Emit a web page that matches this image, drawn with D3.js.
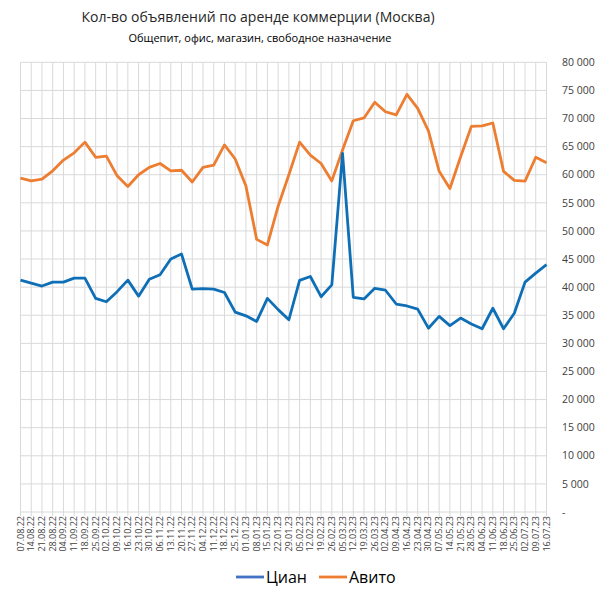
<!DOCTYPE html>
<html>
<head>
<meta charset="utf-8">
<script src="https://cdn.jsdelivr.net/npm/d3@7"></script>
<style>
  body { margin: 0; background: #fff; }
  text { font-family: "Open Sans", sans-serif; fill: #404040; }
</style>
</head>
<body>
<div id="chart"></div>
<script>
// weekly dates (category labels)
var dates = ['07.08.22', '14.08.22', '21.08.22', '28.08.22', '04.09.22', '11.09.22', '18.09.22', '25.09.22',
  '02.10.22', '09.10.22', '16.10.22', '23.10.22', '30.10.22', '06.11.22', '13.11.22', '20.11.22', '27.11.22',
  '04.12.22', '11.12.22', '18.12.22', '25.12.22', '01.01.23', '08.01.23', '15.01.23', '22.01.23', '29.01.23',
  '05.02.23', '12.02.23', '19.02.23', '26.02.23', '05.03.23', '12.03.23', '19.03.23', '26.03.23', '02.04.23',
  '09.04.23', '16.04.23', '23.04.23', '30.04.23', '07.05.23', '14.05.23', '21.05.23', '28.05.23', '04.06.23',
  '11.06.23', '18.06.23', '25.06.23', '02.07.23', '09.07.23', '16.07.23'];

// Циан
var cian = [41250, 40700, 40200, 40900, 40900, 41600, 41600, 38000, 37400, 39200,
  41250, 38400, 41400, 42200, 45000, 45900, 39650, 39750, 39650, 39050,
  35550, 34900, 33900, 38000, 36000, 34200, 41200, 41900, 38300, 40400,
  63800, 38200, 37900, 39800, 39450, 37000, 36650, 36100, 32700, 34800,
  33150, 34500, 33450, 32600, 36250, 32600, 35350, 40900, 42500, 44000];

// Авито
var avito = [59400, 58900, 59200, 60700, 62600, 63900, 65800, 63100, 63300, 59800,
  57900, 60000, 61300, 62000, 60700, 60800, 58700, 61300, 61700, 65300,
  62800, 58000, 48500, 47500, 54400, 60000, 65800, 63500, 62000, 58900,
  64400, 69600, 70100, 72900, 71200, 70650, 74300, 71800, 67800, 60600,
  57550, 63200, 68600, 68700, 69200, 60600, 59000, 58850, 63100, 62150];

var yTicks = d3.range(0, 80001, 5000);

var W = 599, H = 593;
var plotLeft = 20.5, plotRight = 546.5, plotTop = 62.3, plotBottom = 512;

var svg = d3.select('#chart').append('svg')
  .attr('width', W)
  .attr('height', H);

var x = d3.scalePoint().domain(dates).range([plotLeft, plotRight]);
var y = d3.scaleLinear().domain([0, 80000]).range([plotBottom, plotTop]);

// vertical gridlines
svg.append('g')
  .selectAll('line')
  .data(dates)
  .join('line')
  .attr('x1', function (d) { return x(d); })
  .attr('x2', function (d) { return x(d); })
  .attr('y1', plotTop)
  .attr('y2', plotBottom + 4)
  .style('stroke', '#d9d9d9')
  .style('stroke-width', 1);

// horizontal gridlines
svg.append('g')
  .selectAll('line')
  .data(yTicks)
  .join('line')
  .attr('x1', plotLeft)
  .attr('x2', plotRight)
  .attr('y1', function (d) { return y(d); })
  .attr('y2', function (d) { return y(d); })
  .style('stroke', '#d9d9d9')
  .style('stroke-width', 1);

// y labels on the right
var fmt = function (d) { return d === 0 ? '-' : d3.format(',')(d).replace(/,/g, ' '); };
svg.append('g')
  .selectAll('text')
  .data(yTicks)
  .join('text')
  .attr('x', 562)
  .attr('y', function (d) { return y(d); })
  .attr('dy', '0.35em')
  .style('font-size', '10.5px')
  .text(fmt);

// x labels, rotated
svg.append('g')
  .selectAll('text')
  .data(dates)
  .join('text')
  .attr('transform', function (d) { return 'translate(' + (x(d) + 3) + ',' + (plotBottom + 4) + ') rotate(-90)'; })
  .style('text-anchor', 'end')
  .style('font-size', '9px')
  .text(function (d) { return d; });

var line = d3.line()
  .x(function (d, i) { return x(dates[i]); })
  .y(function (d) { return y(d); });

svg.append('path')
  .datum(avito)
  .attr('d', line)
  .style('fill', 'none')
  .style('stroke', '#ed7d31')
  .style('stroke-width', 2.8)
  .style('stroke-linejoin', 'round');

svg.append('path')
  .datum(cian)
  .attr('d', line)
  .style('fill', 'none')
  .style('stroke', '#0f6fb6')
  .style('stroke-width', 2.8)
  .style('stroke-linejoin', 'round');

// titles
svg.append('text')
  .attr('x', 258)
  .attr('y', 22)
  .style('text-anchor', 'middle')
  .style('font-size', '14px')
  .style('fill', '#262626')
  .text('Кол-во объявлений по аренде коммерции (Москва)');

svg.append('text')
  .attr('x', 260)
  .attr('y', 42)
  .style('text-anchor', 'middle')
  .style('font-size', '11px')
  .style('fill', '#000')
  .text('Общепит, офис, магазин, свободное назначение');

// legend
var legend = [{ name: 'Циан', color: '#4472c4', x: 236 }, { name: 'Авито', color: '#ed7d31', x: 319 }];
var lg = svg.append('g').selectAll('g').data(legend).join('g');
lg.append('line')
  .attr('x1', function (d) { return d.x; })
  .attr('x2', function (d) { return d.x + 28; })
  .attr('y1', 577)
  .attr('y2', 577)
  .style('stroke', function (d) { return d.color; })
  .style('stroke-width', 2.8);
lg.append('text')
  .attr('x', function (d) { return d.x + 30; })
  .attr('y', 583)
  .style('font-size', '16px')
  .style('fill', '#000')
  .text(function (d) { return d.name; });
</script>
</body>
</html>
